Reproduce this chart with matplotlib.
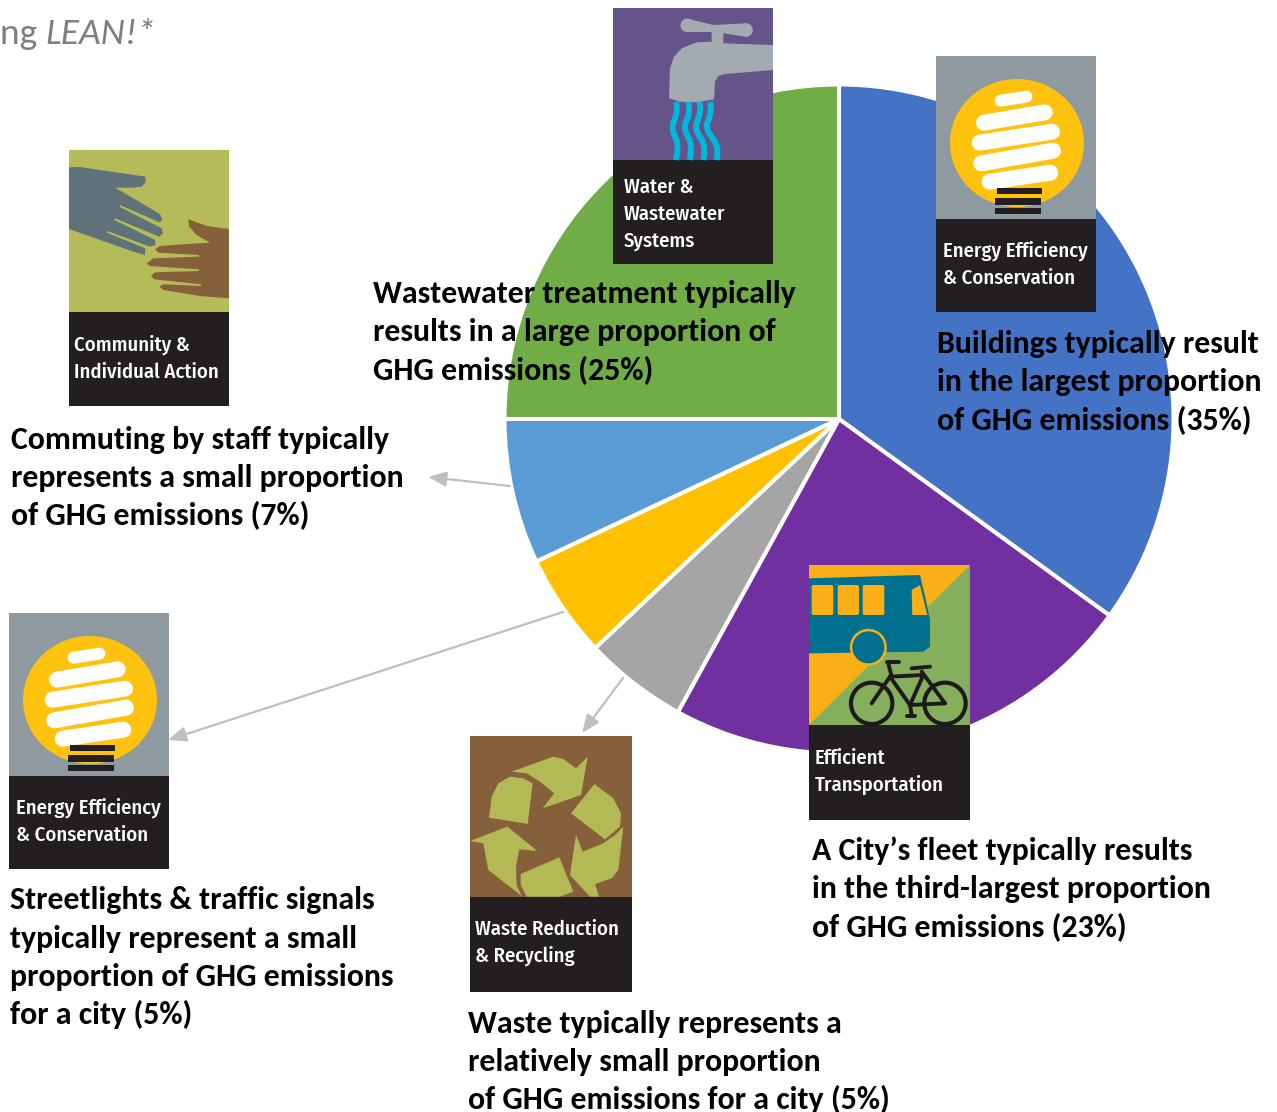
import matplotlib
matplotlib.use("Agg")
import matplotlib.pyplot as plt
from matplotlib.patches import Polygon, Circle, Ellipse, Rectangle, FancyBboxPatch, PathPatch
from matplotlib.path import Path
from matplotlib.textpath import TextPath
from matplotlib.font_manager import FontProperties
import matplotlib.patheffects as pe
from matplotlib import font_manager as fm

W, H = 1277, 1112
shares = [35, 23, 5, 5, 7, 25]
slice_names = ["Buildings", "Fleet", "Waste", "Streetlights", "Commuting", "Wastewater"]
slice_colors = ["#4472C4", "#7030A0", "#A5A5A5", "#FFC000", "#5B9BD5", "#70AD47"]

labels_wastewater = ["Wastewater treatment typically", "results in a large proportion of", "GHG emissions (25%)"]
labels_buildings = ["Buildings typically result", "in the largest proportion", "of GHG emissions (35%)"]
labels_commuting = ["Commuting by staff typically", "represents a small proportion", "of GHG emissions (7%)"]
labels_street = ["Streetlights & traffic signals", "typically represent a small", "proportion of GHG emissions", "for a city (5%)"]
labels_fleet = ["A City\u2019s fleet typically results", "in the third-largest proportion", "of GHG emissions (23%)"]
labels_waste = ["Waste typically represents a", "relatively small proportion", "of GHG emissions for a city (5%)"]

BLACK = "#231F20"
names = {f.name for f in fm.fontManager.ttflist}


def pick(cands):
    for c in cands:
        if c in names:
            return c
    return "DejaVu Sans"


narrow = pick(["Myriad Pro Condensed", "Fira Sans Condensed", "PT Sans Narrow", "Open Sans Condensed", "Roboto Condensed",
               "Asap Condensed", "Archivo Narrow", "Roboto"])
main = pick(["Carlito", "Lato", "Open Sans"])
has_carlito = main == "Carlito"


def fit_size(text, family, weight, target_px):
    fp = FontProperties(family=family, weight=weight, size=10)
    tp = TextPath((0, 0), text, prop=fp)
    bb = tp.get_extents()
    return 10 * target_px / bb.width * 0.72


FS = fit_size("Buildings typically result", main, "bold", 319)
CAP_FS = fit_size("Energy Efficiency", narrow, "medium", 144)

fig = plt.figure(figsize=(W / 100, H / 100), dpi=100, facecolor="white")

# pie
cx, cy, R = 839, 419, 334.5
pax = fig.add_axes([(cx - R) / W, 1 - (cy + R) / H, 2 * R / W, 2 * R / H])
pax.pie(shares, colors=slice_colors, startangle=90, counterclock=False, radius=1,
        wedgeprops=dict(edgecolor="white", linewidth=2.9))
pax.set_xlim(-1, 1)
pax.set_ylim(-1, 1)
pax.set_axis_off()

# overlay in pixel coordinates
ax = fig.add_axes([0, 0, 1, 1], zorder=5)
ax.set_xlim(0, W)
ax.set_ylim(H, 0)
ax.set_axis_off()
ax.patch.set_alpha(0)


def base(x, y, w, h, split, top_color):
    ax.add_patch(Rectangle((x, y), w, split, fc=top_color, ec="none", zorder=2))
    ax.add_patch(Rectangle((x, y + split), w, h - split, fc=BLACK, ec="none", zorder=2))


def poly(pts, color, zo=3):
    p = Polygon(pts, closed=True, fc=color, ec="none", zorder=zo, joinstyle="round")
    ax.add_patch(p)
    return p


def caption(x, baselines, lines):
    for b, t in zip(baselines, lines):
        ax.text(x, b - 1, t, color="white", fontsize=CAP_FS, family=narrow, fontweight="medium",
                va="baseline", ha="left", zorder=6)


def energy_icon(x, y):
    base(x, y, 160, 256, 163, "#8E9A9F")
    f = lambda X, Y: (x + (X - 1008) / 3, y + (Y - 168) / 3)
    ax.add_patch(Ellipse(f(1251, 429), 134, 128, fc="#FFC20E", ec="none", zorder=3))
    caps = [((1202, 302), (1279, 290), 12), ((1152, 368), (1334, 337), 16), ((1139, 428), (1356, 395), 16),
            ((1144, 490), (1359, 452), 16), ((1169, 545), (1351, 518), 16)]
    for a, b, lw in caps:
        pa, pb = f(*a), f(*b)
        ax.plot([pa[0], pb[0]], [pa[1], pb[1]], color="white", lw=lw * 0.72, solid_capstyle="round", zorder=4)
    for X0, X1, Y0, Y1 in [(1190, 1325, 565, 582), (1186, 1323, 595, 614), (1186, 1323, 623, 641)]:
        p0 = f(X0, Y0)
        ax.add_patch(Rectangle(p0, (X1 - X0) / 3, (Y1 - Y0) / 3, fc=BLACK, ec="none", zorder=4))
    caption(x + 7, [y + 202, y + 229], ["Energy Efficiency", "& Conservation"])


def water_icon(x, y):
    base(x, y, 160, 256, 152, "#645489")
    f = lambda X, Y: (x + (X - 39) / 3, y + (Y - 24) / 3)
    P = lambda pts: [f(*p) for p in pts]
    gray = "#A3ABB0"
    poly(P([(262, 56), (340, 75), (438, 70), (438, 110), (370, 100), (370, 130), (519, 135), (519, 210), (375, 222),
            (355, 228), (345, 245), (342, 298), (290, 307), (240, 305), (207, 295), (210, 205), (222, 170), (245, 145),
            (290, 127), (335, 125), (335, 96), (262, 96)]), gray)
    ax.add_patch(Circle(f(262, 76), 6.8, fc=gray, ec="none", zorder=3))
    ax.add_patch(Circle(f(438, 90), 6.8, fc=gray, ec="none", zorder=3))
    wave_tops = [228, 265, 298, 330]
    wave_flare = [0, 4, 12, 20]
    codes = [Path.MOVETO] + [Path.CURVE3] * 6
    for t, d in zip(wave_tops, wave_flare):
        pts = [(t, 306), (t + 8, 335), (t - 8, 368), (t - 16, 388), (t + d * .5 + 2, 420), (t + d + 8, 445), (t + d, 480)]
        ax.add_patch(PathPatch(Path(P(pts), codes), fc="none", ec="#00B7DD", lw=4.3, zorder=3, capstyle="butt"))
    caption(x + 11, [y + 186, y + 213, y + 240], ["Water &", "Wastewater", "Systems"])


def community_icon(x, y):
    base(x, y, 160, 256, 162, "#B5BB58")
    f = lambda X, Y: (x + (X - 207) / 3, y + (Y - 30) / 3)
    P = lambda pts: [f(*p) for p in pts]
    poly(P([(207, 82), (240, 81), (300, 90), (437, 110), (436, 128), (425, 140), (400, 143), (345, 143), (480, 222), (487, 240), (478, 247),
            (360, 195), (358, 200), (485, 265), (489, 280), (478, 290), (345, 235), (343, 240), (465, 300), (467, 315),
            (450, 320), (322, 273), (320, 278), (436, 325), (435, 345), (400, 335), (207, 267)]), "#5F7279")
    poly(P([(687, 267), (620, 258), (565, 237), (567, 260), (590, 285), (630, 308), (560, 312), (480, 318), (465, 328),
            (475, 338), (597, 345), (597, 350), (460, 355), (440, 370), (450, 378), (597, 388), (597, 393), (465, 397),
            (453, 408), (462, 418), (603, 433), (603, 438), (490, 433), (478, 440), (490, 450), (600, 468),
            (687, 475)]), "#85603A")
    caption(x + 5, [y + 202, y + 229], ["Community &", "Individual Action"])


def waste_icon(x, y):
    base(x, y, 162, 256, 161, "#85603A")
    f = lambda X, Y: (x + (X - 30) / 3, y + (Y - 528) / 3)
    P = lambda pts: [f(*p) for p in pts]
    g = "#B3B955"
    poly(P([(155, 635), (280, 590), (310, 597), (348, 625), (383, 590), (363, 705), (248, 745), (282, 700), (240, 665), (200, 640)]), g)
    poly(P([(115, 670), (150, 650), (190, 655), (218, 670), (203, 792), (87, 773), (95, 710)]), g)
    poly(P([(403, 672), (460, 715), (483, 760), (480, 800), (435, 838), (333, 760)]), g)
    poly(P([(490, 800), (475, 930), (455, 955), (405, 972), (417, 1010), (390, 1010), (330, 945), (348, 825), (368, 875), (430, 850), (465, 825)]), g)
    poly(P([(182, 942), (298, 892), (340, 995), (300, 1010), (200, 1010), (182, 975)]), g)
    poly(P([(30, 843), (142, 800), (232, 873), (178, 868), (168, 920), (170, 975), (185, 1008), (85, 930), (70, 850)]), g)
    caption(x + 5, [y + 200, y + 227], ["Waste Reduction", "& Recycling"])


def transport_icon(x, y):
    base(x, y, 161, 255, 160, "#FAAF19")
    f = lambda X, Y: (x + (X - 1047) / 3, y + (Y - 15) / 3)
    P = lambda pts: [f(*p) for p in pts]
    poly(P([(1530, 15), (1530, 495), (1047, 495)]), "#85AE5D")
    poly(P([(1047, 55), (1380, 45), (1400, 130), (1410, 180), (1410, 260), (1390, 275), (1047, 280)]), "#00708F")
    ax.add_patch(Circle(f(1225, 262), 18.5, fc="#FAAF19", ec="none", zorder=3))
    ax.add_patch(Circle(f(1225, 262), 16, fc="#00708F", ec="none", zorder=3))
    for X0, X1 in [(1055, 1120), (1133, 1197), (1208, 1273)]:
        p0 = f(X0, 75)
        ax.add_patch(FancyBboxPatch((p0[0] + 2, p0[1] + 2), (X1 - X0) / 3 - 4, 30 - 4, boxstyle="round,pad=2",
                                    fc="#FAAF19", ec="none", zorder=4))
    poly(P([(1355, 90), (1380, 75), (1402, 165), (1357, 165)]), "#FAAF19", zo=4)
    for c in [(1235, 430), (1455, 430)]:
        ax.add_patch(Circle(f(*c), 20.7, fc="none", ec="#1E1A1B", lw=3.0, zorder=5))
    frame = [((1235, 430), (1290, 350)), ((1290, 350), (1390, 345)), ((1290, 350), (1350, 435)),
             ((1350, 435), (1390, 345)), ((1385, 335), (1455, 430)), ((1350, 435), (1455, 430)),
             ((1285, 310), (1295, 350)), ((1280, 306), (1318, 306)), ((1355, 325), (1410, 320)),
             ((1350, 435), (1355, 465)), ((1340, 467), (1365, 467))]
    for a, b in frame:
        pa, pb = f(*a), f(*b)
        ax.plot([pa[0], pb[0]], [pa[1], pb[1]], color="#1E1A1B", lw=2.8, solid_capstyle="round", zorder=5)
    caption(x + 6, [y + 200, y + 227], ["Efficient", "Transportation"])


water_icon(613, 8)
energy_icon(936, 56)
community_icon(69, 150)
energy_icon(9, 613)
waste_icon(470, 736)
transport_icon(809, 565)

# arrows
GRAY_ARROW = "#BFBFBF"
for start, end in [((510, 486), (428, 477)), ((563, 612), (168, 740)), ((623, 678), (582, 733))]:
    ax.annotate("", xy=end, xytext=start, zorder=2,
                arrowprops=dict(arrowstyle="-|>,head_length=1.1,head_width=0.45", color=GRAY_ARROW, lw=1.6,
                                shrinkA=0, shrinkB=0))

# labels
effects = [] if has_carlito else [pe.withStroke(linewidth=0.5, foreground="black")]
for x, baselines, lines in [
    (373, [303, 341, 380], labels_wastewater),
    (937, [353, 391, 430], labels_buildings),
    (11, [449, 487, 525], labels_commuting),
    (10, [909, 948, 986, 1024], labels_street),
    (812, [860, 898, 937], labels_fleet),
    (468, [1033, 1071, 1109], labels_waste),
]:
    for b, t in zip(baselines, lines):
        ax.text(x, b, t, fontsize=FS, family=main, fontweight="bold", color="black", va="baseline", ha="left",
                zorder=7, path_effects=effects)

# heading remnant at the top-left edge of the reference
HEAD = "#7F7F7F"
head_fs = fit_size("LEAN!*", main, "normal", 104)
ax.text(0, 44, "ng ", fontsize=head_fs, family=main, color=HEAD, va="baseline", ha="left", zorder=7)
ax.text(45, 44, "LEAN!*", fontsize=head_fs, family=main, style="italic", color=HEAD, va="baseline", ha="left", zorder=7)

fig.savefig("out.png", dpi=100)
